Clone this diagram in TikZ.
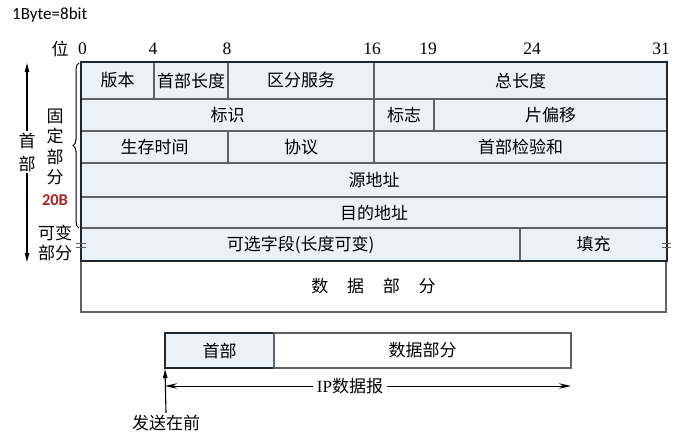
\documentclass[tikz,border=0pt]{standalone}
\usepackage{fontspec}
\setmainfont{Liberation Serif}
\newfontfamily\cjk{Noto Sans CJK SC}
\newfontfamily\calib{Carlito}
\usetikzlibrary{arrows.meta,decorations.pathreplacing}

\definecolor{cellblue}{HTML}{EAF2F8}
\definecolor{gridgray}{HTML}{5E6266}
\definecolor{frameline}{HTML}{1E2630}
\definecolor{bytered}{HTML}{A82222}

\newcommand\zh{\cjk\fontsize{17}{20}\selectfont}
\newcommand\numfont{\fontsize{17.5}{19}\selectfont}

% one field of the header: name, x1, y1, x2, y2, text
\newcommand\hcell[6]{%
  \node[cell, minimum width={(#4-#2)*1pt}, minimum height={(#5-#3)*1pt}] (#1) at (#2,#3) {#6};}

\begin{document}
\begin{tikzpicture}[x=1pt,y=-1pt,
  cell/.style={draw=gridgray, line width=1.1pt, fill=cellblue, inner sep=0pt,
               outer sep=0pt, anchor=north west, font=\zh},
  plaincell/.style={cell, fill=white},
  bitnum/.style={font=\numfont, inner sep=0pt},
  sidelabel/.style={font=\cjk\fontsize{17}{20.5}\selectfont, align=center, inner sep=1pt},
  arrowline/.style={line width=1.1pt, -{Latex[length=10pt,width=5pt]}},
  spanline/.style={line width=1pt, -{Stealth[length=12pt,width=5.5pt]}},
  frame/.style={draw=frameline, line width=2pt}]

\useasboundingbox (0,0) rectangle (687,440);

\node[font=\calib\fontsize{17}{20}\selectfont, anchor=west, inner sep=0pt] (unit) at (12,15) {1Byte=8bit};

% bit positions
\node[font=\zh, inner sep=0pt] (wei) at (60,49) {位};
\node[bitnum] (b0)  at (82.5,49) {0};
\node[bitnum] (b4)  at (153,49) {4};
\node[bitnum] (b8)  at (227,49) {8};
\node[bitnum] (b16) at (372,49) {16};
\node[bitnum] (b19) at (428,49) {19};
\node[bitnum] (b24) at (532,49) {24};
\node[bitnum] (b31) at (661,49) {31};

% data part below the header
\node[plaincell, draw=gridgray, minimum width=585pt, minimum height=51pt] (data) at (81,261)
  {数\hspace{1.1em}据\hspace{1.1em}部\hspace{1.1em}分};

% header fields
\hcell{ver}{81}{62}{154}{99}{版本}
\hcell{ihl}{154}{62}{228}{99}{首部长度}
\hcell{tos}{228}{62}{374}{99}{区分服务}
\hcell{len}{374}{62}{667}{99}{总长度}
\hcell{ident}{81}{99}{374}{131}{标识}
\hcell{flags}{374}{99}{434}{131}{标志}
\hcell{frag}{434}{99}{667}{131}{片偏移}
\hcell{ttl}{81}{131}{228}{163}{生存时间}
\hcell{proto}{228}{131}{374}{163}{协议}
\hcell{cksum}{374}{131}{667}{163}{首部检验和}
\hcell{src}{81}{163}{667}{197}{源地址}
\hcell{dst}{81}{197}{667}{228}{目的地址}
\hcell{opt}{81}{228}{520}{261}{可选字段(长度可变)}
\hcell{pad}{520}{228}{667}{261}{填充}
\draw[frame] (ver.north west) rectangle (pad.south east);

% variable-length marks on both sides of the options row
\draw[gridgray, line width=0.9pt] (76,243.5) -- (86,243.5) (76,247.5) -- (86,247.5);
\draw[gridgray, line width=0.9pt] (662,243.5) -- (671,243.5) (662,247.5) -- (671,247.5);

% header extent on the left
\node[sidelabel, font=\cjk\fontsize{17}{23}\selectfont] (hdr) at (27,152) {首\\部};
\coordinate (htop) at (27,62);
\coordinate (hbot) at (27,263);
\draw[arrowline] (hdr.north) -- (htop);
\draw[arrowline] (hdr.south) -- (hbot);

% fixed part and its brace
\node[sidelabel] (fixed) at (55,147) {固\\定\\部\\分};
\node[font=\calib\bfseries\fontsize{16.5}{18}\selectfont, text=bytered, inner sep=0pt] (twenty) at (55,200) {20B};
\coordinate (brbot) at (79,228);
\coordinate (brtop) at (79,63);
\draw[line width=1pt, decorate, decoration={brace, amplitude=6pt}] (brbot) -- (brtop);
\node[sidelabel, font=\cjk\fontsize{17}{20}\selectfont] (varpart) at (55,243) {可变\\部分};

% datagram overview
\node[cell, minimum width=109pt, minimum height=35pt] (hd) at (165,333) {首部};
\draw[frame] (hd.north west) rectangle (hd.south east);
\node[plaincell, minimum width=297pt, minimum height=35pt] (dp) at (274,333) {数据部分};
\node[fill=white, inner sep=4pt, font=\fontsize{17}{20}\selectfont] (ip) at (350,386) {IP{\zh 数据报}};
\draw[spanline] (ip.west) -- (hd.south west |- ip);
\draw[spanline] (ip.east) -- (dp.south east |- ip);
\node[font=\zh, inner sep=2pt] (send) at (166,423) {发送在前};
\draw[arrowline] (send.north) -- (hd.south west);

\end{tikzpicture}
\end{document}
